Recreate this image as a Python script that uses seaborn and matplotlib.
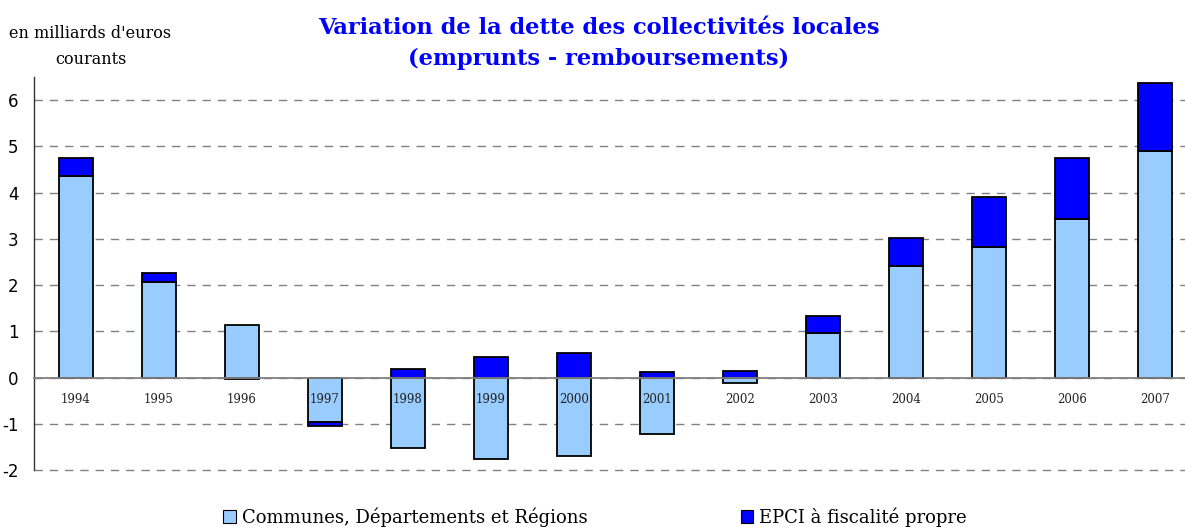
import numpy as np
import pandas as pd
import matplotlib
matplotlib.use("Agg")
import matplotlib.pyplot as plt
from matplotlib.patches import Patch
from matplotlib.ticker import FixedLocator, MultipleLocator
import seaborn as sns

years = ["1994", "1995", "1996", "1997", "1998", "1999", "2000",
         "2001", "2002", "2003", "2004", "2005", "2006", "2007"]
communes = [4.35, 2.06, 1.13, -0.97, -1.53, -1.77, -1.69,
            -1.23, -0.11, 0.96, 2.42, 2.83, 3.43, 4.91]
epci = [0.39, 0.19, -0.03, -0.08, 0.19, 0.45, 0.52,
        0.12, 0.15, 0.38, 0.60, 1.08, 1.32, 1.45]
series_names = ["Communes, Départements et Régions", "EPCI à fiscalité propre"]

LIGHT = "#99CCFF"
DARK = "#0000FF"
GRID = "#808080"

sns.set_style("white")
plt.rcParams["font.family"] = ["DejaVu Serif"]
plt.rcParams["axes.unicode_minus"] = False
plt.rcParams["text.color"] = "black"
plt.rcParams["xtick.color"] = "black"
plt.rcParams["ytick.color"] = "black"

df = pd.DataFrame({"year": years, "communes": communes, "epci": epci})
# negative and positive parts stack separately, like the spreadsheet does
same_sign = np.sign(df["epci"]) == np.sign(df["communes"])
df["epci_bottom"] = np.where(same_sign, df["communes"], 0.0)

fig = plt.figure(figsize=(11.85, 5.27), dpi=100)
ax = fig.add_axes([34 / 1185, 57 / 527, 1163 / 1185, 393 / 527])

sns.barplot(data=df, x="year", y="communes", color=LIGHT, saturation=1,
            width=0.41, edgecolor="black", linewidth=1.3, ax=ax, zorder=2)
ax.bar(np.arange(len(df)), df["epci"], bottom=df["epci_bottom"], width=0.41,
       color=DARK, edgecolor="black", linewidth=1.3, zorder=2)

ax.set_xlim(-0.5, len(years) - 0.5)
ax.set_ylim(-2, 6.5)
ax.yaxis.set_major_locator(MultipleLocator(1))
ax.set_axisbelow(True)
ax.yaxis.grid(True, color=GRID, linestyle=(0, (6, 5)), linewidth=1)
for gl in ax.yaxis.get_gridlines():
    gl.set_clip_on(False)
ax.xaxis.grid(False)

for s in ["top", "right"]:
    ax.spines[s].set_visible(False)
ax.spines["bottom"].set_position(("data", 0))
ax.spines["bottom"].set_color(GRID)
ax.spines["bottom"].set_linewidth(1.3)
ax.spines["left"].set_color("#333333")
ax.spines["left"].set_linewidth(1)

ax.xaxis.set_minor_locator(FixedLocator(np.arange(-0.5, len(years), 1.0)))
ax.tick_params(axis="x", which="major", length=0, pad=11, labelsize=8.5,
               labelcolor="#222222")
ax.tick_params(axis="x", which="minor", length=5, width=1, color="#333333", direction="out")
ax.tick_params(axis="y", length=5, width=1, color="#333333", direction="out",
               pad=6, labelsize=12)
for lab in ax.get_yticklabels():
    lab.set_fontfamily("DejaVu Sans")
ax.xaxis.set_zorder(3)
ax.set_xlabel("")
ax.set_ylabel("")

fig.text(0.505, 0.946, "Variation de la dette des collectivités locales",
         ha="center", va="center", color=DARK, fontsize=16.2, fontweight="bold")
fig.text(0.505, 0.888, "(emprunts - remboursements)",
         ha="center", va="center", color=DARK, fontsize=16.2, fontweight="bold")
fig.text(0.0764, 0.937, "en milliards d'euros", ha="center", va="center", fontsize=11.5)
fig.text(0.0764, 0.887, "courants", ha="center", va="center", fontsize=11.5)

handles = [Patch(facecolor=LIGHT, edgecolor="black", linewidth=0.8),
           Patch(facecolor=DARK, edgecolor="black", linewidth=0.8)]
fig.legend(handles, series_names, loc="center", bbox_to_anchor=(0.502, 0.019),
           ncol=2, frameon=False, fontsize=13, handlelength=0.7, handleheight=0.7,
           handletextpad=0.3, columnspacing=8.5)

fig.savefig("out.png", dpi=100)
